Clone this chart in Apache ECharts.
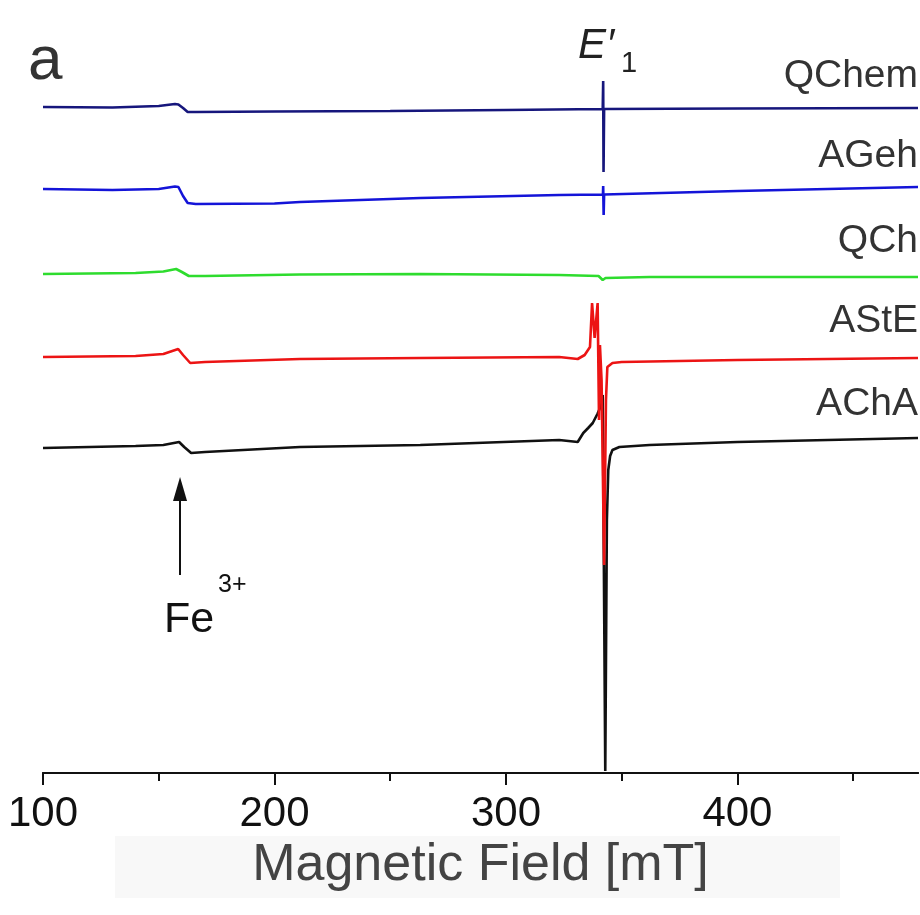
<!DOCTYPE html>
<html>
<head>
<meta charset="utf-8">
<script src="https://cdn.jsdelivr.net/npm/echarts@6/dist/echarts.min.js"></script>
<style>
  html, body { margin: 0; padding: 0; background: #fff; }
  #chart { width: 920px; height: 915px; }
</style>
</head>
<body>
<div id="chart"></div>
<script>
// EPR spectra, field in mT, intensity in arbitrary (offset) units
const seriesNames = ['QChem', 'AGeh', 'QCh', 'AStE', 'AChA'];
const xTicks = [100, 200, 300, 400];
const xMinorTicks = [150, 250, 350, 450];

const qchem = [
  [100, 666], [130, 665.5], [150, 667], [157, 669], [158.5, 668.5], [160.5, 665],
  [162.5, 661], [166, 661], [200, 661.5], [250, 662], [300, 663], [341.8, 664],
  [342.0, 692], [342.15, 601], [342.4, 664], [400, 664.5], [478, 665]
];
const ageh = [
  [100, 584], [130, 583], [150, 584], [157, 586.5], [158.5, 586], [160.5, 577],
  [162.5, 570], [166, 569], [200, 569.5], [211, 571], [263, 575], [323, 578],
  [341.9, 578.5], [342.0, 587], [342.2, 558], [342.4, 578.5], [400, 582], [478, 586]
];
const qch = [
  [100, 499], [140, 500], [152, 501.5], [157.5, 504], [160, 501], [163, 497],
  [170, 497], [211, 498.5], [263, 499], [323, 498], [340, 497], [341.8, 493],
  [343, 495], [362, 496], [478, 496]
];
const aste = [
  [100, 416], [140, 417], [152, 419], [158.4, 424], [160.5, 418], [163.6, 410],
  [170, 411], [211, 414], [263, 415], [323, 416], [331, 414], [334, 418],
  [336.3, 426], [337.2, 470], [338.3, 435], [339.6, 470], [340.2, 353], [340.6, 428],
  [341.3, 393], [342.4, 208], [343.2, 373], [343.8, 406], [346, 410], [350, 411],
  [400, 413], [478, 415]
];
const acha = [
  [100, 325], [140, 327], [152, 328], [158.8, 331], [161, 326], [164, 320],
  [170, 321], [211, 326], [263, 328], [323, 333], [331, 331], [333.4, 340],
  [335.5, 345], [337.5, 350], [339.5, 359], [341.2, 368], [341.8, 378], [342.9, 2],
  [343.6, 253], [344.2, 303], [345, 317], [346, 323], [349, 326], [362, 328],
  [400, 331], [478, 335]
];

const colors = {
  QChem: '#16167c',
  AGeh: '#1414d8',
  QCh: '#2edc2e',
  AStE: '#ec1414',
  AChA: '#111111'
};

// Fe3+ marker arrow (field, intensity range; the head is centred on the end point)
const feArrow = { field: 159.2, from: 198, to: 284 };

const chart = echarts.init(document.getElementById('chart'), null, { renderer: 'canvas' });

function trace(name, data, z) {
  return {
    name: name,
    type: 'line',
    xAxisIndex: 0,
    data: data,
    showSymbol: false,
    symbol: 'none',
    smooth: false,
    z: z,
    lineStyle: { color: colors[name], width: 2.6 },
    animation: false
  };
}

const series = [
  Object.assign(trace('AChA', acha, 2), {
    markLine: {
      silent: true,
      symbol: ['none', 'triangle'],
      symbolSize: [14, 24],
      label: { show: false },
      lineStyle: { color: '#111', width: 2, type: 'solid' },
      data: [[
        { coord: [feArrow.field, feArrow.from] },
        { coord: [feArrow.field, feArrow.to] }
      ]]
    }
  }),
  trace('AStE', aste, 3),
  trace('QCh', qch, 4),
  trace('AGeh', ageh, 5),
  trace('QChem', qchem, 6)
];

const labelFont = '39px "Liberation Sans", Arial, sans-serif';
const labelY = { QChem: 76, AGeh: 156, QCh: 241, AStE: 321, AChA: 404 };

const graphics = [
  { type: 'rect', shape: { x: 115, y: 836, width: 725, height: 62 }, style: { fill: '#f8f8f8' }, z: -1 },
  { type: 'text', x: 28, y: 62, style: { text: 'a', font: '62px "Liberation Sans", Arial, sans-serif', fill: '#333', align: 'left', verticalAlign: 'middle' } },
  { type: 'text', x: 614, y: 46, style: { text: 'E\u2032', font: 'italic 42px "Liberation Sans", Arial, sans-serif', fill: '#222', align: 'right', verticalAlign: 'middle' } },
  { type: 'text', x: 621, y: 64, style: { text: '1', font: '29px "Liberation Sans", Arial, sans-serif', fill: '#222', align: 'left', verticalAlign: 'middle' } },
  { type: 'text', x: 164, y: 620, style: { text: 'Fe', font: '43px "Liberation Sans", Arial, sans-serif', fill: '#111', align: 'left', verticalAlign: 'middle' } },
  { type: 'text', x: 218, y: 585, style: { text: '3+', font: '25px "Liberation Sans", Arial, sans-serif', fill: '#111', align: 'left', verticalAlign: 'middle' } }
];
seriesNames.forEach(function (n) {
  graphics.push({ type: 'text', x: 918, y: labelY[n], style: { text: n, font: labelFont, fill: '#333', align: 'right', verticalAlign: 'middle' } });
});

const axisCommon = {
  type: 'value',
  min: 100,
  max: 478,
  position: 'bottom',
  splitLine: { show: false },
  axisLine: { show: true, onZero: false, lineStyle: { color: '#111', width: 2 } }
};

chart.setOption({
  backgroundColor: '#ffffff',
  animation: false,
  grid: { left: 43, width: 875, top: 23, bottom: 142, containLabel: false },
  xAxis: [
    Object.assign({}, axisCommon, {
      interval: 100,
      name: 'Magnetic Field [mT]',
      nameLocation: 'middle',
      nameGap: 60,
      nameTextStyle: { fontSize: 52, color: '#444', fontFamily: '"Liberation Sans", Arial, sans-serif', verticalAlign: 'top' },
      axisTick: { show: true, inside: false, length: 12, customValues: xTicks, lineStyle: { color: '#111', width: 2 } },
      axisLabel: {
        show: true, margin: 20, fontSize: 42, color: '#111',
        fontFamily: '"Liberation Sans", Arial, sans-serif',
        customValues: xTicks,
        formatter: function (v) { return String(v); }
      }
    }),
    Object.assign({}, axisCommon, {
      interval: 50,
      axisTick: { show: true, inside: false, length: 8, customValues: xMinorTicks, lineStyle: { color: '#111', width: 2 } },
      axisLabel: { show: false }
    })
  ],
  yAxis: {
    type: 'value',
    min: 0,
    max: 750,
    show: false,
    splitLine: { show: false }
  },
  graphic: graphics,
  series: series
});
</script>
</body>
</html>
